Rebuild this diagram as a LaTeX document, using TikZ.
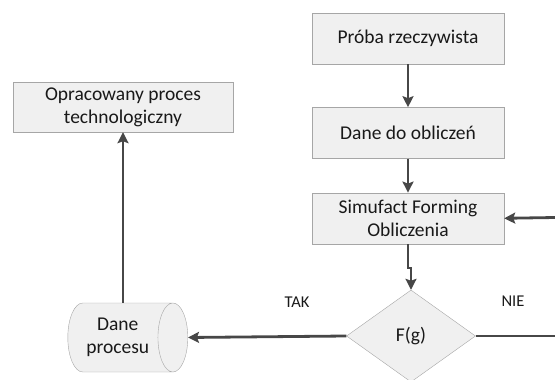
\documentclass[tikz,border=0pt]{standalone}
\usepackage{fontspec}
\setmainfont{Carlito}
\usetikzlibrary{arrows.meta, positioning, shapes.geometric}
\tikzset{
  box/.style={rectangle, draw=black!35, fill=black!6, minimum width=192pt, minimum height=51pt, align=center, inner sep=2pt, font=\fontsize{19.5}{23}\selectfont, text=black!90},
  datastore/.style={cylinder, draw=black!35, fill=black!6, minimum width=69pt, minimum height=120pt, shape aspect=0.7, align=center, inner sep=2pt, font=\fontsize{19.5}{23}\selectfont, text=black!90},
  decision/.style={diamond, draw=black!35, fill=black!6, minimum width=129pt, minimum height=92pt, inner sep=0pt, font=\fontsize{19.5}{23}\selectfont, text=black!90},
  answer/.style={font=\fontsize{16.5}{20}\selectfont, text=black!90},
  arrow/.style={-{Stealth[length=11pt, width=11pt, inset=2pt]}, line width=2.8pt, draw=black!72},
  plain/.style={line width=2.8pt, draw=black!72}
}
\begin{document}
\begin{tikzpicture}[x=1pt, y=1pt]
  \useasboundingbox (0,0) rectangle (555,-380);
  \node[box] (proba) at (408,-38.5) {Próba rzeczywista};
  \node[box, below=43pt of proba] (dane) {Dane do obliczeń};
  \node[box, below=34pt of dane] (simu) {Simufact Forming\\Obliczenia};
  \node[decision] (fg) at (411,-336) {F(g)};
  \node[datastore, anchor=east] (proces) at (188,-337.5) {Dane\\procesu};
  \node[box, minimum width=220pt, minimum height=50pt] (wynik) at (123,-107) {Opracowany proces\\technologiczny};
  \node[answer] (tak) at (297,-302) {TAK};
  \node[answer] (nie) at (513,-301) {NIE};
  \coordinate (powrot) at (555,-217.5);
  \coordinate (wyjscie) at (555,-336);

  \draw[arrow] (proba) -- (dane);
  \draw[arrow] (dane) -- (simu);
  \draw[arrow] (simu.south) -- ++(0,-24) -| (fg.north);
  \draw[arrow] (fg.west) -- (proces.east);
  \draw[plain] (fg.east) -- (wyjscie);
  \draw[arrow] (powrot) -- (simu.east);
  \draw[arrow] (wynik.south |- proces.north) -- (wynik.south);
\end{tikzpicture}
\end{document}
